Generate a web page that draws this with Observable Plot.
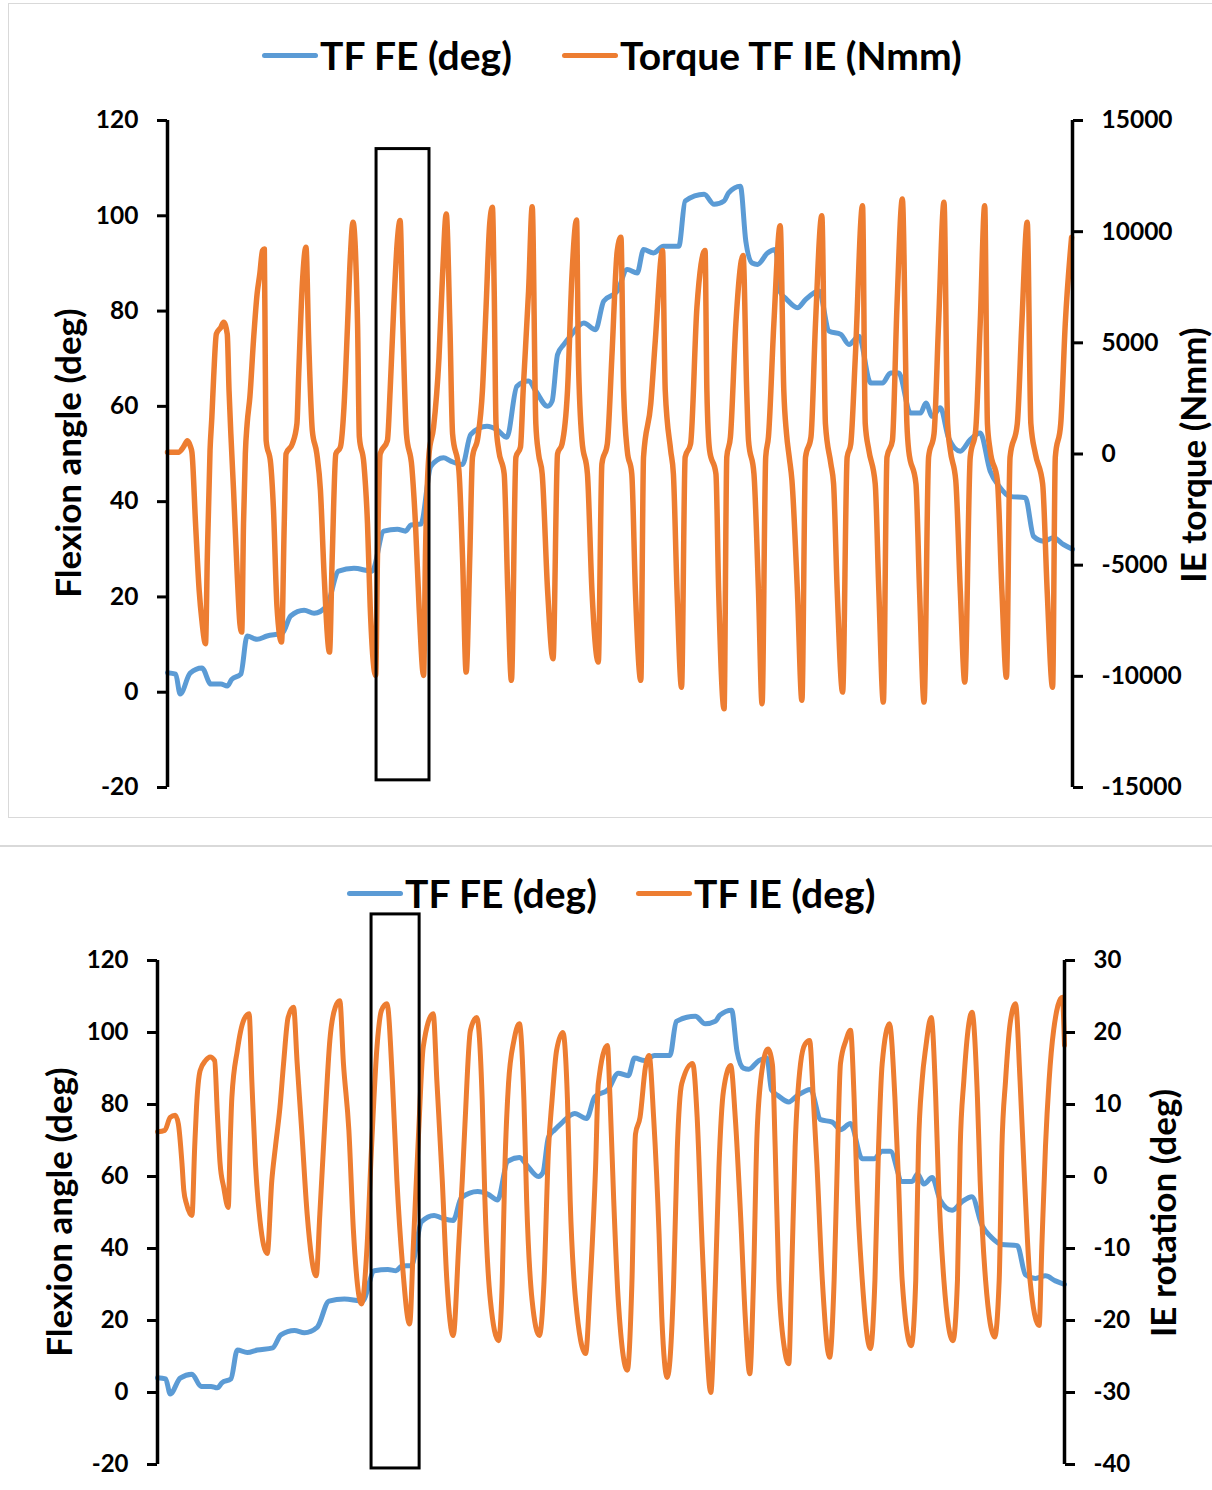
<!DOCTYPE html>
<html><head><meta charset="utf-8">
<script src="https://cdn.jsdelivr.net/npm/d3@7"></script>
<script src="https://cdn.jsdelivr.net/npm/@observablehq/plot@0.6"></script>
<style>
body{margin:0;background:#fff;}
#page{position:relative;width:1212px;height:1490px;overflow:hidden;font-family:Lato,"Open Sans",sans-serif;font-weight:700;color:#000;background:#fff;}
.legend-item{position:absolute;display:flex;align-items:center;font-size:39px;line-height:39px;white-space:nowrap;z-index:3;}
.swatch{width:56px;height:5px;border-radius:3px;margin-right:2px;}
.ytitle{position:absolute;font-size:35px;line-height:35px;white-space:nowrap;transform:translate(-50%,-50%) rotate(-90deg);z-index:3;}
.panel{position:absolute;left:0;z-index:1;}
</style></head><body><div id="page"></div>
<script>
const feAngle = [[0,4.1],[0.9,3.8],[1.4,-0.4],[2.5,4.0],[3.8,5.1],[4.8,1.7],[5.9,1.7],[6.6,1.3],[7.1,2.7],[8.1,3.8],[8.8,11.8],[9.9,11.1],[11.0,11.8],[12.7,12.4],[13.6,16.0],[15.1,17.2],[16.2,16.6],[17.6,18.1],[18.9,25.4],[20.6,26.0],[22.6,25.4],[23.9,33.8],[25.4,34.2],[26.3,33.8],[26.9,35.1],[28.0,35.3],[29.1,47.4],[30.5,49.2],[31.3,48.5],[32.6,47.8],[33.5,54.1],[35.3,55.8],[36.4,55.1],[37.5,53.5],[38.6,64.2],[39.9,65.3],[40.7,63.2],[42.0,60.0],[42.5,61.1],[43.1,70.9],[43.8,73.0],[44.5,74.7],[46.0,77.5],[47.3,76.1],[48.2,82.1],[49.7,84.2],[50.8,88.7],[51.9,88.0],[52.6,92.9],[53.7,92.2],[54.8,93.6],[56.5,93.6],[57.2,103.1],[59.3,104.5],[60.4,102.4],[61.5,103.1],[62.0,104.8],[63.3,106.2],[63.9,94.7],[64.6,90.1],[65.2,89.8],[66.3,92.2],[67.2,92.9],[67.7,84.0],[68.4,82.5],[69.6,80.7],[70.5,82.4],[72.0,84.2],[73.1,75.8],[74.4,75.1],[75.3,73.0],[76.4,74.7],[77.7,64.9],[79.0,64.9],[79.9,67.0],[80.8,67.0],[82.1,58.6],[83.2,58.6],[83.8,60.7],[84.5,57.9],[85.4,59.7],[86.3,53.4],[87.6,50.6],[88.7,53.0],[89.8,54.4],[90.9,46.4],[91.9,43.2],[93.1,41.1],[94.8,40.8],[95.7,32.7],[96.8,31.7],[97.9,32.4],[99.0,31.0],[100,30.0]];

const torqueIE = [[0,80],[1.2,80],[1.8,340],[2.2,600],[2.5,380],[2.7,70],[3.1,-3140],[3.5,-6140],[3.8,-7490],[4.2,-8530],
[4.4,-4640],[4.7,160],[4.9,1650],[5.1,3450],[5.4,5400],[5.9,5700],[6.2,5930],[6.6,5400],[6.8,2850],[7.0,910],[7.3,-1640],[7.7,-5390],[8.0,-7630],[8.2,-8010],
[8.4,-3140],[8.6,10],[8.8,1360],[9.1,2550],[9.5,5100],[9.9,7200],[10.2,8100],[10.5,9150],[10.7,9220],[10.8,4350],[10.9,610],[11.4,-440],[11.7,-2390],[12.1,-6890],[12.6,-8460],
[12.9,-3140],[13.1,10],[13.8,460],[14.3,1360],[14.5,3610],[14.9,7650],[15.3,9300],[15.6,5100],[16.0,1060],[16.5,10],[16.9,-1640],[17.3,-5390],[17.9,-8910],
[18.2,-4640],[18.6,10],[19.1,310],[19.5,2100],[19.9,5850],[20.2,8850],[20.5,10420],[21.0,5850],[21.2,760],[21.7,-440],[22.1,-3140],[22.4,-6890],[23.0,-9960],
[23.2,-4640],[23.5,10],[24.3,610],[24.6,2850],[25.0,6600],[25.4,9600],[25.7,10500],[26.0,5850],[26.4,910],[27.0,-590],[27.4,-3140],[27.8,-6890],[28.3,-9960],
[28.5,-4640],[28.9,10],[29.4,1200],[30.0,4350],[30.4,8100],[30.8,10800],[31.2,5850],[31.5,910],[32.2,-740],[32.6,-4640],[33.0,-9810],
[33.4,-4640],[33.7,-140],[34.3,760],[34.8,2850],[35.2,6600],[35.6,10350],[35.9,11100],[36.1,7350],[36.3,1360],[36.6,160],[37.2,-890],[37.6,-6140],[38.0,-10180],
[38.5,-140],[39.0,310],[39.3,2850],[39.9,7350],[40.3,11120],[40.7,1360],[41.0,10],[41.4,-890],[42.0,-6140],[42.6,-9210],
[43.1,10],[43.6,460],[44.2,2850],[44.7,8100],[45.2,10530],[45.4,4350],[45.8,610],[46.4,-890],[46.9,-6140],[47.6,-9360],
[48.0,-440],[48.6,460],[49.1,4350],[49.7,9150],[50.1,9750],[50.4,2850],[50.8,160],[51.3,-890],[51.7,-6140],[52.3,-10180],
[52.6,-140],[53.4,2260],[53.9,5100],[54.7,9150],[55.0,2850],[55.6,160],[55.9,-890],[56.3,-6140],[56.8,-10490],
[57.2,-140],[57.8,460],[58.5,6600],[59.4,9150],[59.6,2850],[59.9,160],[60.6,-890],[60.9,-6140],[61.5,-11460],
[61.8,-140],[62.2,760],[62.8,5850],[63.6,8930],[64.0,2850],[64.2,610],[64.8,-890],[65.3,-6140],[65.7,-11230],
[66.1,-140],[66.4,760],[67.0,5850],[67.7,10270],[68.1,2850],[68.4,910],[68.7,-140],[69.0,-1190],[69.6,-6140],[70.1,-11080],
[70.5,-140],[71.1,760],[71.6,5850],[72.3,10720],[72.7,1360],[73.3,-440],[73.6,-1340],[74.0,-6140],[74.6,-10710],
[75.1,-140],[75.5,460],[76.0,4350],[76.8,11170],[77.1,1360],[77.5,160],[78.2,-1340],[78.6,-6140],[79.1,-11160],
[79.5,-140],[80.1,610],[80.6,6600],[81.2,11470],[81.7,1360],[81.9,160],[82.7,-1340],[83.1,-6140],[83.6,-11160],
[84.1,-140],[84.7,910],[85.2,5850],[85.8,11320],[86.2,1360],[86.5,160],[87.1,-1190],[87.6,-6140],[88.1,-10260],
[88.7,-140],[89.3,1060],[89.8,5850],[90.3,11170],[90.6,1360],[90.9,160],[91.7,-1190],[92.2,-6140],[92.7,-10040],
[93.1,-140],[93.9,1360],[94.4,5850],[95.0,10420],[95.4,1360],[95.9,10],[96.7,-1340],[97.2,-6140],[97.8,-10490],
[98.1,-140],[98.7,1360],[99.2,5850],[99.9,9750]];

const rotationIE = [[0,6.2],[0.8,6.4],[1.4,8.2],[1.95,8.5],[2.3,7.3],[2.7,1.8],[2.9,-1.9],[3.2,-3.8],[3.8,-5.4],
[4.1,4.1],[4.3,9.6],[4.7,14.7],[5.3,16.1],[5.8,16.6],[6.3,16.1],[6.6,8.7],[6.9,1.8],[7.3,-1.5],[7.8,-4.3],
[8.0,4.1],[8.2,11.0],[8.8,17.5],[9.5,21.7],[10.1,22.6],[10.4,13.3],[10.8,1.8],[11.3,-6.1],[12.1,-10.7],
[12.6,-0.6],[13.0,4.1],[13.5,9.6],[13.9,15.7],[14.4,22.1],[15.0,23.5],[15.4,15.7],[15.9,6.4],[16.5,-5.2],[17.5,-13.8],
[17.9,-5.2],[18.5,8.7],[19.0,18.9],[19.6,23.5],[20.1,24.4],[20.5,15.7],[21.1,6.4],[21.6,-7.5],[22.5,-17.7],
[23.1,-9.8],[23.6,4.1],[24.2,18.0],[24.7,23.1],[25.3,24.0],[25.9,13.3],[26.4,-0.6],[27.0,-12.1],[27.8,-20.5],
[28.2,-9.8],[28.8,6.4],[29.3,18.0],[30.4,22.6],[30.8,13.3],[31.4,-0.6],[31.9,-14.4],[32.6,-22.1],
[33.2,-9.8],[33.6,-0.6],[33.9,7.3],[34.5,20.3],[35.2,22.1],[35.8,10.6],[36.1,-3.3],[36.7,-17.2],[37.6,-22.8],
[38.0,-15.0],[38.3,1.3],[38.7,12.9],[39.3,18.9],[39.9,21.2],[40.4,10.6],[40.7,-3.3],[41.3,-17.2],[42.1,-22.1],
[42.6,-15.0],[43.1,3.6],[43.5,10.6],[44.0,17.5],[44.7,20.0],[45.2,10.6],[45.5,-3.3],[46.1,-17.2],[47.2,-24.6],
[47.7,-15.0],[48.3,1.3],[48.6,12.9],[49.6,18.2],[49.9,10.6],[50.3,-3.3],[50.8,-17.2],[51.8,-26.9],
[52.3,-15.0],[52.7,5.9],[53.2,8.2],[53.8,15.2],[54.2,16.8],[54.7,8.2],[55.3,-8.0],[55.6,-19.5],[56.2,-27.9],
[56.9,-15.0],[57.3,3.6],[57.8,12.9],[59.0,15.7],[59.5,8.2],[60.0,-8.0],[60.4,-19.5],[61.0,-30.0],
[61.5,-15.0],[61.9,1.3],[62.4,11.9],[63.2,15.4],[63.7,8.2],[64.3,-5.7],[64.8,-19.5],[65.3,-27.4],
[65.7,-15.0],[66.1,5.9],[66.7,15.2],[67.3,17.7],[67.8,15.5],[68.1,4.1],[68.5,-14.4],[69.1,-23.7],[69.6,-26.0],
[69.9,-14.4],[70.3,4.1],[70.9,15.7],[71.4,18.4],[71.9,18.9],[72.3,11.0],[72.7,1.8],[73.3,-14.4],[74.1,-25.1],
[74.6,-14.4],[74.9,-0.6],[75.3,15.7],[75.9,18.9],[76.4,20.3],[76.8,11.0],[77.1,-0.6],[77.7,-14.4],[78.6,-23.9],
[79.1,-14.4],[79.5,4.1],[79.9,15.7],[80.7,21.2],[81.3,11.0],[81.7,-0.6],[82.1,-14.4],[83.1,-23.5],
[83.6,-14.4],[83.9,4.1],[84.3,13.3],[84.7,17.9],[85.3,22.1],[85.8,11.0],[86.1,-0.6],[86.7,-14.4],[87.7,-22.8],
[88.2,-14.4],[88.5,4.1],[88.9,13.3],[89.8,22.8],[90.4,11.0],[90.7,-0.6],[91.3,-14.4],[92.3,-22.3],
[92.8,-14.4],[93.1,4.1],[93.5,13.3],[94.0,21.2],[94.6,24.0],[95.1,13.3],[95.6,-0.6],[96.2,-14.4],[97.2,-20.7],
[97.5,-9.8],[97.9,4.1],[98.3,13.3],[98.8,20.3],[99.75,24.9],[100,18.2]];

const flexionTicks = [-20, 0, 20, 40, 60, 80, 100, 120];
const torqueTicks = [-15000, -10000, -5000, 0, 5000, 10000, 15000];
const rotationTicks = [-40, -30, -20, -10, 0, 10, 20, 30];
const topLegend = ["TF FE (deg)", "Torque TF IE (Nmm)"];
const bottomLegend = ["TF FE (deg)", "TF IE (deg)"];
const topTitles = ["Flexion angle (deg)", "IE torque (Nmm)"];
const bottomTitles = ["Flexion angle (deg)", "IE rotation (deg)"];
// highlighted cycle (annotation box), in data units
const topBox = [{t1: 23.1, t2: 28.95, lo: -18.5, hi: 114.0}];
const bottomBox = [{t1: 23.6, t2: 28.9, lo: -21.1, hi: 132.8}];

// ---------- drawing ----------
const BLUE = "#5B9BD5", ORANGE = "#ED7D31";
const page = document.getElementById("page");

function panel({fe, sec, secTicks, secDomain, box, top, height, mt, mb, ml, mr, blueW, orangeW, fontSize}) {
  const toLeft = d3.scaleLinear(secDomain, [-20, 120]);
  const chart = Plot.plot({
    width: 1212, height,
    marginTop: mt, marginBottom: mb, marginLeft: ml, marginRight: mr,
    x: {domain: [0, 100], axis: null},
    y: {domain: [-20, 120], axis: null},
    style: {background: "transparent", fontFamily: "Lato, 'Open Sans', sans-serif", fontSize: fontSize + "px", fontWeight: "bold", color: "#000", overflow: "visible"},
    marks: [
      Plot.line(fe, {x: d => d[0], y: d => d[1], stroke: BLUE, strokeWidth: blueW, curve: "monotone-x"}),
      Plot.line(sec, {x: d => d[0], y: d => toLeft(d[1]), stroke: ORANGE, strokeWidth: orangeW, curve: "monotone-x"}),
      Plot.rect(box, {x1: "t1", x2: "t2", y1: "lo", y2: "hi", fill: "none", stroke: "#000", strokeWidth: 3}),
      Plot.ruleX([0], {stroke: "#000", strokeWidth: 3.5}),
      Plot.ruleX([100], {stroke: "#000", strokeWidth: 3.5}),
      Plot.axisY(flexionTicks, {anchor: "left", tickSize: 10, tickPadding: 19, strokeWidth: 3, tickFormat: d => String(d)}),
      Plot.axisY(secTicks.map(v => toLeft(v)), {anchor: "right", tickSize: 10, tickPadding: 19, strokeWidth: 3, tickFormat: d => String(Math.round(toLeft.invert(d)))})
    ]
  });
  chart.classList.add("panel");
  chart.style.top = top + "px";
  page.appendChild(chart);
}

function legend(labels, lefts, top) {
  labels.forEach((lab, i) => {
    const item = document.createElement("div");
    item.className = "legend-item";
    item.style.left = lefts[i] + "px";
    item.style.top = top + "px";
    const sw = document.createElement("div");
    sw.className = "swatch";
    sw.style.background = i === 0 ? BLUE : ORANGE;
    const tx = document.createElement("span");
    tx.textContent = lab;
    item.appendChild(sw); item.appendChild(tx);
    page.appendChild(item);
  });
}

function title(text, cx, cy) {
  const d = document.createElement("div");
  d.className = "ytitle";
  d.style.left = cx + "px";
  d.style.top = cy + "px";
  d.textContent = text;
  page.appendChild(d);
}

// panel frames
const frame = document.createElement("div");
Object.assign(frame.style, {position: "absolute", left: "8px", top: "3px", width: "1230px", height: "813px", border: "1.5px solid #d9d9d9", zIndex: 0});
page.appendChild(frame);
const sep = document.createElement("div");
Object.assign(sep.style, {position: "absolute", left: "0px", top: "845px", width: "1212px", height: "0px", borderTop: "2px solid #d9d9d9", zIndex: 0});
page.appendChild(sep);

panel({fe: feAngle, sec: torqueIE, secTicks: torqueTicks, secDomain: [-15000, 15000], box: topBox,
  top: 95, height: 720, mt: 25, mb: 28, ml: 167, mr: 140, blueW: 5, orangeW: 5.5, fontSize: 24.5});
panel({fe: feAngle, sec: rotationIE, secTicks: rotationTicks, secDomain: [-40, 30], box: bottomBox,
  top: 900, height: 580, mt: 60, mb: 16, ml: 157, mr: 148, blueW: 5, orangeW: 5, fontSize: 24});

legend(topLegend, [262, 562], 35.5);
legend(bottomLegend, [347, 636], 873.5);

title(topTitles[0], 67, 453);
title(topTitles[1], 1192, 455);
title(bottomTitles[0], 58, 1212);
title(bottomTitles[1], 1162, 1213);
</script></body></html>
